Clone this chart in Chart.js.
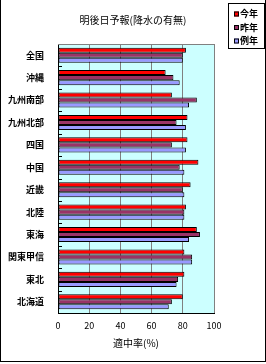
<!DOCTYPE html>
<html>
<head>
<meta charset="utf-8">
<script src="https://cdn.jsdelivr.net/npm/chart.js@4"></script>
<style>
  html, body { margin: 0; padding: 0; background: #fff; }
  canvas { display: block; }
</style>
</head>
<body>
<canvas id="myChartBar" width="266" height="364"></canvas>
<script>
// datos
const categories = ['全国', '沖縄', '九州南部', '九州北部', '四国', '中国', '近畿', '北陸', '東海', '関東甲信', '東北', '北海道'];
const seriesNames = ['今年', '昨年', '例年'];
const thisYear = [82, 69, 73, 83, 83, 90, 85, 82, 89, 81, 81, 80];
const lastYear = [80, 74, 89, 76, 73, 78, 80, 81, 91, 86, 77, 73];
const normalYear = [80, 78, 84, 82, 82, 81, 81, 81, 84, 86, 76, 71];
const xTicks = [0, 20, 40, 60, 80, 100];
const chartTitle = '明後日予報(降水の有無)';

const colors = ['#FF0000', '#993366', '#9999FF'];
const FONT = "'Noto Sans CJK JP', 'Noto Sans', sans-serif";

Chart.defaults.font.family = FONT;
Chart.defaults.color = '#000';

const framePlugin = {
    id: 'framePlugin',
    beforeDraw(chart) {
        const { ctx, chartArea: a } = chart;
        ctx.save();
        ctx.fillStyle = '#CCFFFF';
        ctx.fillRect(a.left, a.top, a.right - a.left, a.bottom - a.top);
        ctx.restore();
    },
    afterDraw(chart) {
        const { ctx, chartArea: a } = chart;
        const yScale = chart.scales.y;
        ctx.save();

        // titulo
        ctx.fillStyle = '#000';
        ctx.font = '10px ' + FONT;
        ctx.textAlign = 'center';
        ctx.textBaseline = 'middle';
        ctx.fillText(chartTitle, 133, 20);

        // borde superior del area
        ctx.strokeStyle = '#808080';
        ctx.lineWidth = 1;
        ctx.beginPath();
        ctx.moveTo(a.left, a.top + 0.5);
        ctx.lineTo(a.right, a.top + 0.5);
        ctx.stroke();

        // marcas pequenas entre categorias
        ctx.strokeStyle = '#000';
        ctx.beginPath();
        for (let i = 1; i < categories.length; i++) {
            const y = Math.round((yScale.getPixelForValue(i - 1) + yScale.getPixelForValue(i)) / 2) + 0.5;
            ctx.moveTo(a.left, y);
            ctx.lineTo(a.left + 4, y);
        }
        ctx.stroke();

        // leyenda
        ctx.strokeStyle = '#000';
        ctx.strokeRect(228.5, 3.5, 36, 45);
        ctx.font = 'bold 9px ' + FONT;
        ctx.textBaseline = 'middle';
        ctx.textAlign = 'left';
        chart.data.datasets.forEach((ds, i) => {
            const y = 14 + i * 13.5;
            ctx.fillStyle = ds.backgroundColor;
            ctx.fillRect(234, y - 2.5, 5, 5);
            ctx.strokeRect(234.5, y - 2, 4, 4);
            ctx.fillStyle = '#000';
            ctx.fillText(ds.label, 240, y);
        });

        // borde exterior
        ctx.strokeRect(0.5, -2, 265, 363.5);
        ctx.restore();
    }
};

const ctx = document.getElementById('myChartBar').getContext('2d');
new Chart(ctx, {
    type: 'bar',
    data: {
        labels: categories,
        datasets: [thisYear, lastYear, normalYear].map((data, i) => ({
            label: seriesNames[i],
            data,
            backgroundColor: colors[i],
            borderColor: '#000',
            borderWidth: 1,
            borderSkipped: false,
            categoryPercentage: 0.67,
            barPercentage: 1
        }))
    },
    options: {
        indexAxis: 'y',
        responsive: false,
        animation: false,
        layout: { padding: { top: 44, right: 52, left: 0, bottom: 0 } },
        plugins: {
            legend: { display: false },
            tooltip: { enabled: false },
            title: { display: false }
        },
        scales: {
            x: {
                min: 0,
                max: 100,
                afterBuildTicks: (scale) => { scale.ticks = xTicks.map(v => ({ value: v })); },
                afterFit: (scale) => { scale.height = 51; },
                ticks: { font: { size: 9 }, color: '#000', padding: 7 },
                grid: { color: '#808080', drawTicks: false },
                border: { color: '#000' },
                title: {
                    display: true,
                    text: '適中率(%)',
                    font: { size: 10 },
                    color: '#000',
                    padding: { top: 15, bottom: 15 }
                }
            },
            y: {
                afterFit: (scale) => { scale.width = 58; },
                ticks: { font: { size: 9, weight: 'bold' }, color: '#000', padding: 6 },
                grid: { display: false },
                border: { color: '#000' }
            }
        }
    },
    plugins: [framePlugin]
});
</script>
</body>
</html>
